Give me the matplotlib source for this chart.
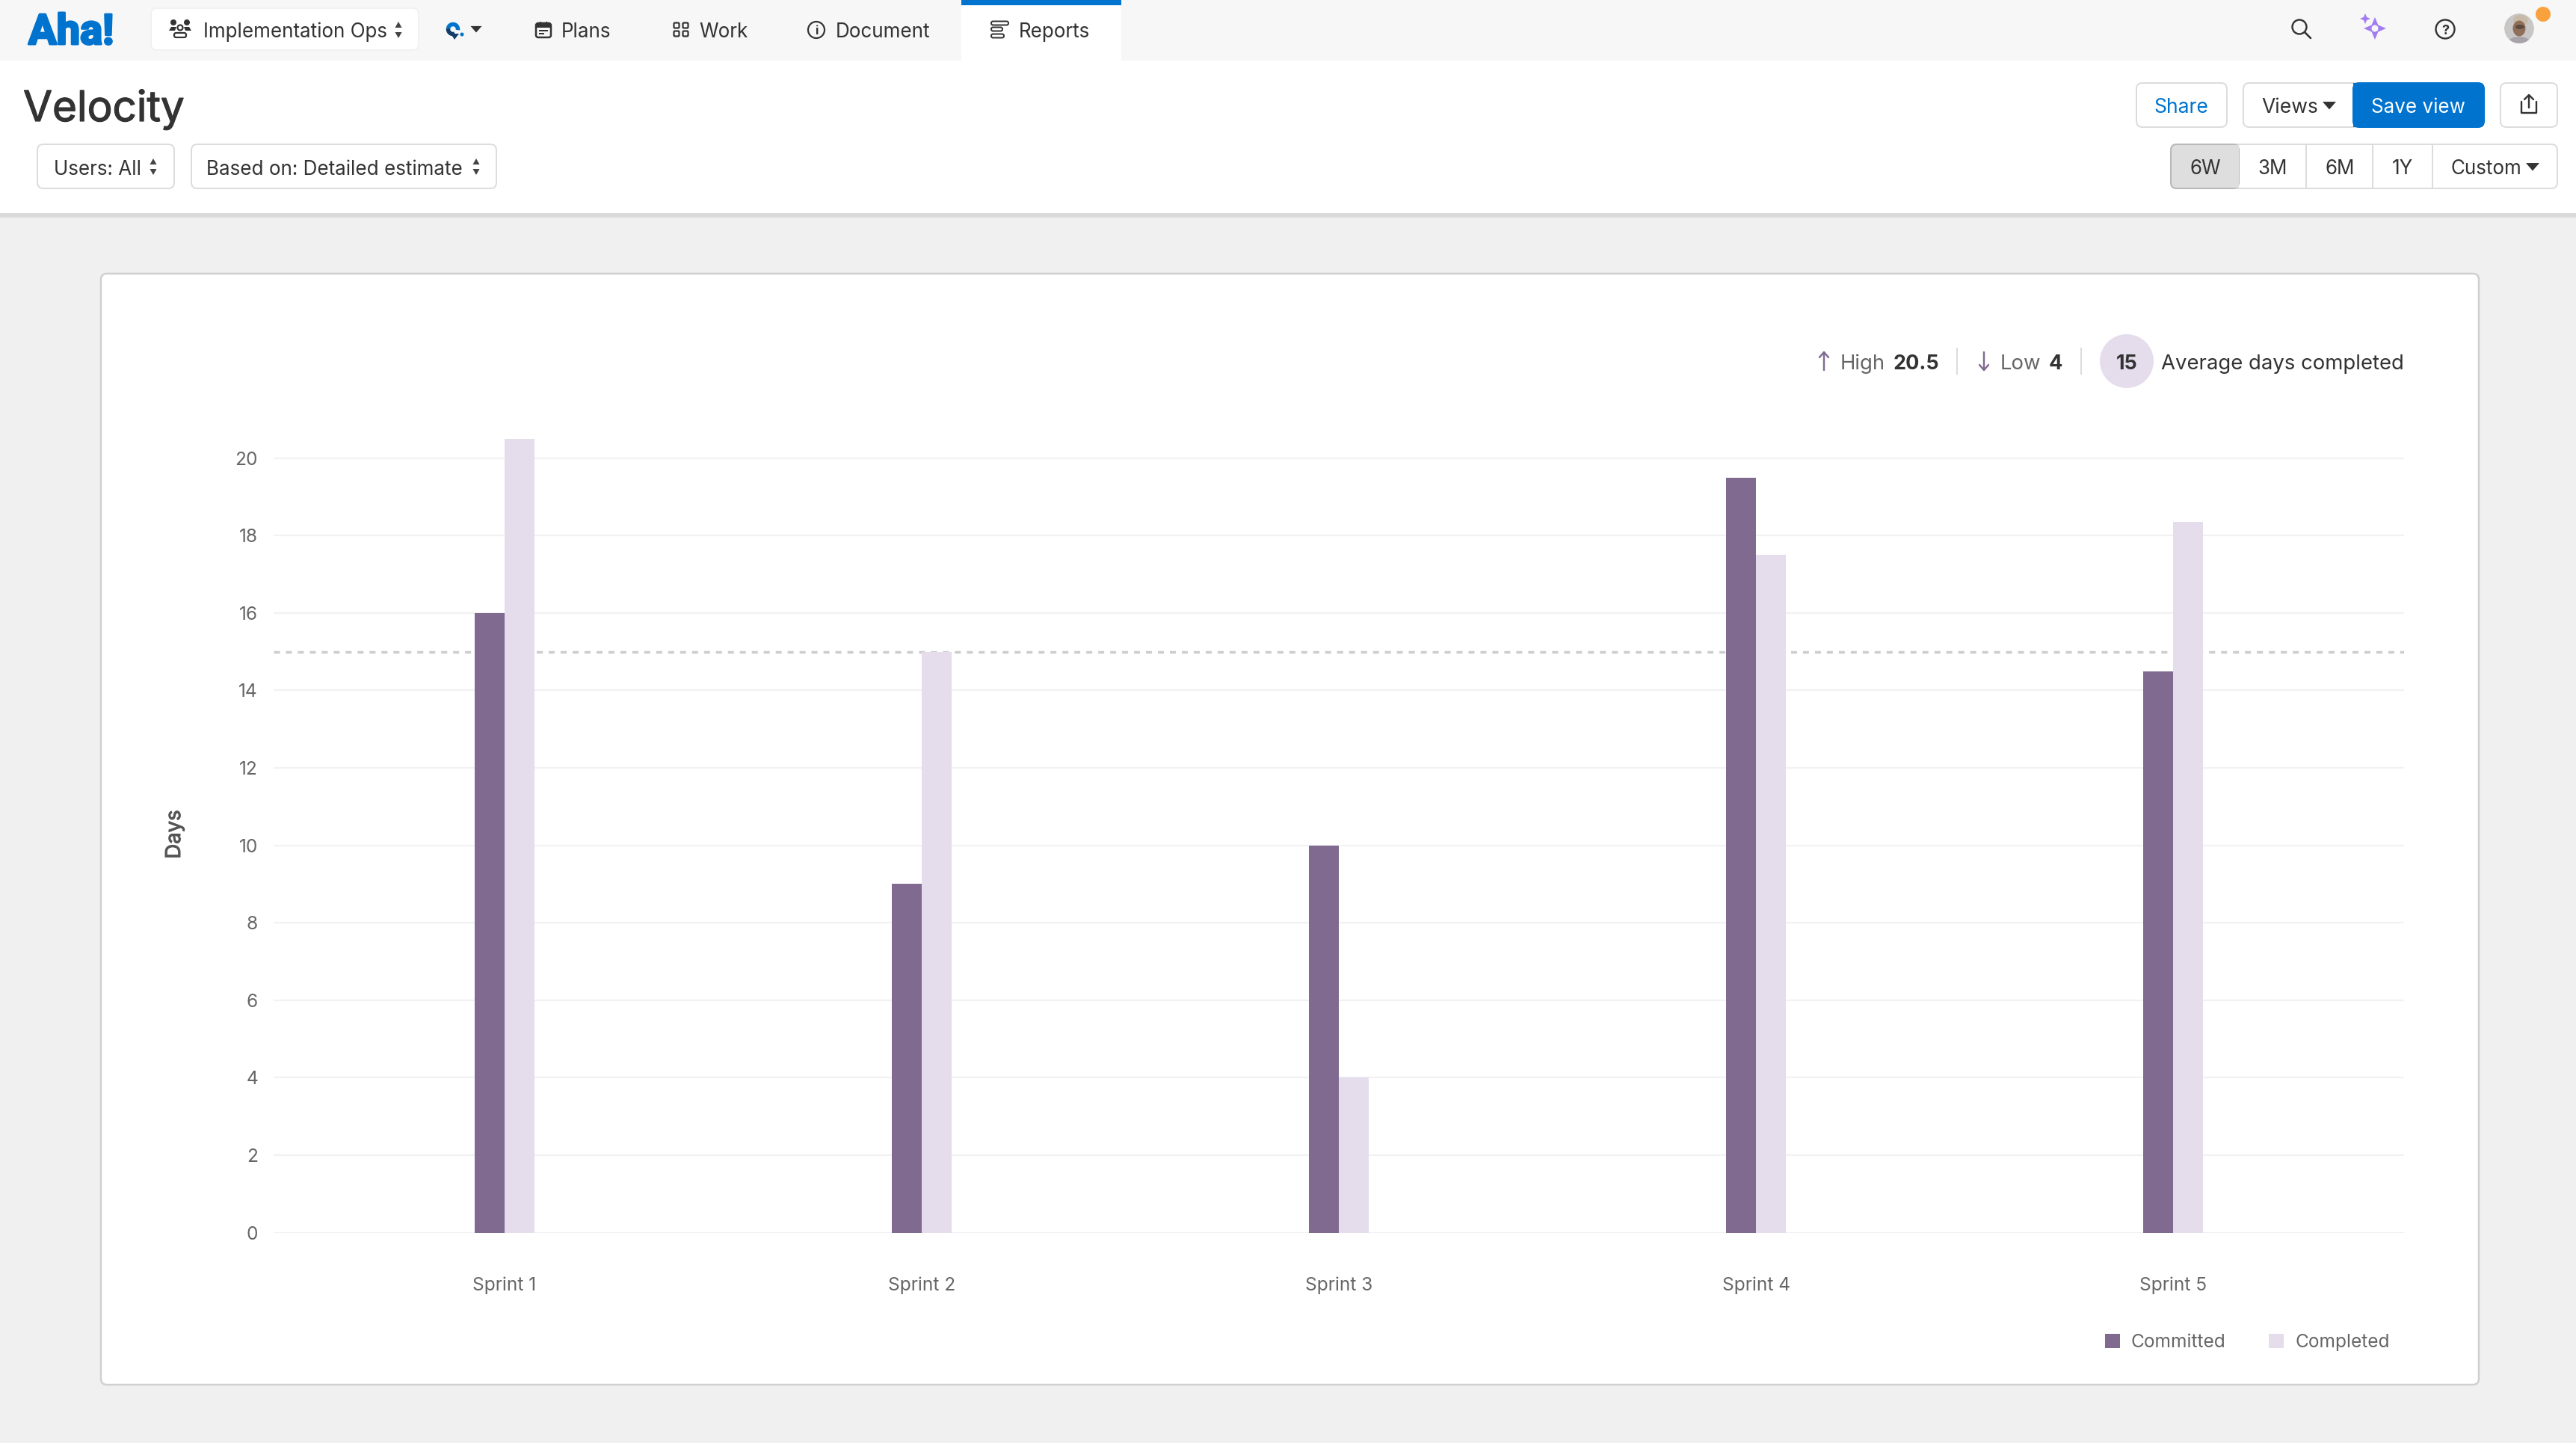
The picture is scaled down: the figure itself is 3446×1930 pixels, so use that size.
import numpy as np
import matplotlib
matplotlib.use("Agg")
import matplotlib.pyplot as plt
import matplotlib.patheffects as pe
from matplotlib.patches import FancyBboxPatch, Rectangle, Circle, Ellipse, Polygon

W, H = 3446, 1930

# data
sprints = ["Sprint 1", "Sprint 2", "Sprint 3", "Sprint 4", "Sprint 5"]
committed = [16, 9, 10, 19.5, 14.5]
completed = [20.5, 15, 4, 17.5, 18.35]
average = 15
y_ticks = [0, 2, 4, 6, 8, 10, 12, 14, 16, 18, 20]
high_val = "20.5"
low_val = "4"
avg_val = "15"

DARK = "#806a90"
LIGHT = "#e5dcec"
BLUE = "#0073cf"
TXT = "#333333"
GREY = "#666666"
BORDER = "#dcdcdc"

plt.rcParams["font.family"] = ["Inter", "DejaVu Sans"]


def px(n):
    # pixels to points
    return n * 72 / 100


def thick(c, n=0.8):
    return [pe.withStroke(linewidth=px(n), foreground=c)]


fig = plt.figure(figsize=(W / 100, H / 100), dpi=100, facecolor="#f0f0f0")

# page layer, in pixels
bg = fig.add_axes([0, 0, 1, 1])
bg.set_xlim(0, W)
bg.set_ylim(H, 0)
bg.axis("off")


def box(x0, y0, x1, y1, fc="white", ec=BORDER, r=8, lw=2, z=2):
    p = FancyBboxPatch((x0 + r, y0 + r), x1 - x0 - 2 * r, y1 - y0 - 2 * r,
                       boxstyle=f"round,pad={r},rounding_size={r}",
                       fc=fc, ec=ec, lw=px(lw), zorder=z)
    bg.add_patch(p)


def rect(x0, y0, x1, y1, c, z=3):
    bg.add_patch(Rectangle((x0, y0), x1 - x0, y1 - y0, fc=c, ec="none", zorder=z))


def label(x, y, s, size=26, c=TXT, ha="left", weight="normal", **kw):
    return bg.text(x, y, s, fontsize=px(size), color=c, ha=ha, va="center_baseline",
                   fontweight=weight, zorder=5, **kw)


def caret(x, y, s=9, c=TXT):
    bg.add_patch(Polygon([(x - s, y - s * 0.55), (x + s, y - s * 0.55), (x, y + s * 0.6)],
                         fc=c, ec="none", zorder=5))


def updown(x, y):
    bg.add_patch(Polygon([(x - 4.5, y - 3), (x + 4.5, y - 3), (x, y - 11)], fc="#444444", zorder=5))
    bg.add_patch(Polygon([(x - 4.5, y + 3), (x + 4.5, y + 3), (x, y + 11)], fc="#444444", zorder=5))


def line(xs, ys, c=TXT, lw=2.2, z=5):
    bg.plot(xs, ys, color=c, lw=px(lw), zorder=z, solid_capstyle="round")


def arc(cx, cy, r, a0, a1, c, lw):
    t = np.radians(np.linspace(a0, a1, 30))
    bg.plot(cx + r * np.cos(t), cy - r * np.sin(t), color=c, lw=px(lw), zorder=5, solid_capstyle="butt")


# top nav
rect(0, 0, W, 81, "#f7f7f7", z=1)
rect(0, 81, W, 285, "white", z=1)
rect(0, 285, W, 291, "#dadada", z=1)
rect(1286, 0, 1500, 81, "white", z=2)
rect(1286, 0, 1500, 7, BLUE, z=3)
t = bg.text(38, 59, "Aha!", fontsize=px(56), color=BLUE, family=["Roboto", "DejaVu Sans"],
            fontweight="bold", va="baseline", zorder=5)
t.set_path_effects(thick(BLUE, 3))
box(202, 11, 560, 67, ec="#f1f1f1", r=8)

# people icon
bg.add_patch(Circle((232, 30), 4, fc=TXT, zorder=5))
bg.add_patch(Circle((250, 30), 4, fc=TXT, zorder=5))
bg.add_patch(Circle((241, 37), 3.5, fc="none", ec=TXT, lw=px(2.2), zorder=5))
bg.add_patch(Polygon([(226, 41), (229, 36), (236, 36), (234, 41)], fc=TXT, zorder=5))
bg.add_patch(Polygon([(256, 41), (253, 36), (246, 36), (248, 41)], fc=TXT, zorder=5))
box(233, 44, 249, 50, fc="none", ec=TXT, r=2.5, lw=2.2)
label(272, 40, "Implementation Ops", size=26)
updown(533, 40)

# workspace icon and caret
arc(606, 39, 6.5, -10, 170, BLUE, 5.5)
arc(606, 39, 6.5, 170, 290, "#123d6b", 5.5)
bg.add_patch(Polygon([(603, 45), (614, 45), (608, 53)], fc="#123d6b", zorder=5))
bg.add_patch(Circle((618, 46), 2.5, fc=BLUE, zorder=5))
caret(637, 39, 7.5)

# plans
box(717, 31, 737, 50, fc="none", ec=TXT, r=3, lw=2.5)
rect(717, 31, 737, 37, TXT, z=5)
rect(722, 29, 724, 33, TXT, z=5)
rect(730, 29, 732, 33, TXT, z=5)
rect(721, 40, 733, 42, TXT, z=5)
rect(721, 44, 728, 46, TXT, z=5)
label(751, 40, "Plans")
# work
for ix in (905, 917):
    for iy in (34, 45):
        box(ix - 3.5, iy - 3.5, ix + 3.5, iy + 3.5, fc="none", ec=TXT, r=1.5, lw=2.2)
label(935, 40, "Work")
# document
bg.add_patch(Circle((1092, 40), 11, fc="none", ec=TXT, lw=px(2.2), zorder=5))
label(1092, 40, "i", size=16, ha="center", weight="bold")
label(1118, 40, "Document")
# reports
for yy, x1 in ((31, 1349), (39, 1341), (48, 1343)):
    box(1326, yy - 2.5, x1, yy + 2.5, fc="none", ec=TXT, r=2.4, lw=2, z=5)
label(1363, 40, "Reports")

# right side icons
bg.add_patch(Circle((3076, 36), 9.5, fc="none", ec=TXT, lw=px(2.4), zorder=5))
line([3083, 3091], [43, 51], lw=2.6)


def sparkle(x, y, s, c="#a37cf0"):
    th = np.linspace(0, 2 * np.pi, 9)[:-1]
    rr = np.where(np.arange(8) % 2 == 0, s, s * 0.42)
    bg.add_patch(Polygon(np.c_[x + rr * np.sin(th), y - rr * np.cos(th)], fc=c, ec="none", zorder=5))


sparkle(3177, 38, 15)
bg.add_patch(Circle((3177, 38), 4.5, fc="#f7f7f7", zorder=6))
sparkle(3164, 25, 7)
bg.add_patch(Circle((3271, 39), 12.5, fc="none", ec=TXT, lw=px(2.4), zorder=5))
label(3271, 39, "?", size=18, ha="center", weight="bold")

# avatar
clip = Circle((3370, 38), 20, transform=bg.transData)
for shape in (Circle((3370, 38), 20, fc="#c9c6c6"),
              Ellipse((3372, 27), 20, 14, fc="#c8baa8"),
              Ellipse((3370, 38), 17, 21, fc="#8f6f5a"),
              Ellipse((3371, 36), 12, 6, fc="#5e4a40"),
              Ellipse((3370, 60), 34, 22, fc="#a7a3a8")):
    shape.set_zorder(5)
    bg.add_patch(shape)
    shape.set_clip_path(clip)
bg.add_patch(Circle((3402, 19), 10, fc="#f9a23d", zorder=6))

# title and filters
label(31, 141, "Velocity", size=56.5).set_path_effects(thick(TXT, 1.2))
box(50, 193, 233, 252)
label(72, 224, "Users: All", size=26)
updown(205, 223)
box(256, 193, 664, 252)
label(276, 224, "Based on: Detailed estimate", size=26)
updown(637, 223)

# action buttons
box(2858, 111, 2979, 170)
label(2918, 141, "Share", size=26.5, c=BLUE, ha="center")
box(3001, 111, 3160, 170)
label(3063, 141, "Views", size=26.5, ha="center")
caret(3116, 141)
box(3148, 111, 3323, 170, fc=BLUE, ec=BLUE)
rect(3148, 111, 3160, 170, BLUE, z=3)
label(3235, 141, "Save view", size=26, c="white", ha="center")
box(3345, 111, 3421, 170)
line([3373, 3373, 3393, 3393], [136, 151, 151, 136], lw=2.4)
line([3383, 3383], [128, 144], lw=2.4)
line([3377, 3383, 3389], [133, 127, 133], lw=2.4)

# range buttons
box(2904, 193, 3421, 252)
box(2904, 193, 2995, 252, fc="#dedede", ec="#b8b8b8", r=8, z=3)
rect(2985, 194, 2995, 251, "#dedede", z=3)
for xd in (3085, 3174, 3254):
    rect(xd - 1, 194, xd + 1, 251, BORDER, z=3)
for xc, s in ((2950, "6W"), (3040, "3M"), (3130, "6M"), (3214, "1Y")):
    label(xc, 223, s, ha="center")
label(3279, 223, "Custom")
caret(3388, 223)

# card
box(135, 366, 3316, 1852, ec="#d0d0d0", r=8, lw=2.5)

# stats row
line([2440, 2440], [471, 495], c=DARK, lw=2.4)
line([2434, 2440, 2446], [478, 471, 478], c=DARK, lw=2.4)
label(2462, 484, "High", size=27.5, c=GREY)
label(2533, 484, high_val, size=27, weight="bold")
rect(2617, 465, 2619, 501, BORDER)
line([2654, 2654], [471, 495], c=DARK, lw=2.4)
line([2648, 2654, 2660], [488, 495, 488], c=DARK, lw=2.4)
label(2676, 484, "Low", size=27.5, c=GREY)
label(2741, 484, low_val, size=27, weight="bold")
rect(2783, 465, 2785, 501, BORDER)
bg.add_patch(Circle((2845, 483), 36, fc=LIGHT, zorder=3))
label(2845, 484, avg_val, size=27, ha="center", weight="bold")
label(3216, 484, "Average days completed", size=27.5, ha="right")

# chart
ax_l, ax_r, y0, y20 = 366, 3216, 1648.6, 612.6
ymax = 21
ax_top = y0 - (y0 - y20) / 20 * ymax
ax = fig.add_axes([ax_l / W, 1 - y0 / H, (ax_r - ax_l) / W, (y0 - ax_top) / H])
ax.patch.set_alpha(0)
centers = np.arange(len(sprints))
bw = 40 / 558
ax.set_xlim((ax_l - 675) / 558, (ax_r - 675) / 558)
ax.set_ylim(0, ymax)

ax.bar(centers - bw / 2, committed, bw, color=DARK, label="Committed", zorder=3)
ax.bar(centers + bw / 2, completed, bw, color=LIGHT, label="Completed", zorder=3)
ax.axhline(average, color="#cccccc", lw=px(3.4), ls=(0, (2.35, 2.35)), zorder=2)

ax.set_yticks(y_ticks)
ax.set_xticks(centers)
ax.set_xticklabels(sprints)
ax.tick_params(axis="both", length=0, labelsize=px(24.5), labelcolor=GREY)
ax.tick_params(axis="y", pad=px(21))
ax.tick_params(axis="x", pad=px(59))
ax.grid(axis="y", color="#f2f2f2", lw=px(2.2), zorder=0)
ax.set_axisbelow(True)
for s in ax.spines.values():
    s.set_visible(False)

days = bg.text(234, 1116, "Days", fontsize=px(27.5), color="#555555",
               rotation=90, ha="center", va="center")
days.set_path_effects(thick("#555555", 1))

ax.legend(loc="lower right", bbox_to_anchor=(3197 / W, 1 - 1807 / H), bbox_transform=fig.transFigure,
          ncol=2, frameon=False, fontsize=px(24.5), labelcolor=GREY, handlelength=0.82, handleheight=0.82,
          handletextpad=0.62, columnspacing=2.35, borderpad=0, borderaxespad=0)

fig.savefig("out.png", dpi=100, facecolor=fig.get_facecolor())
